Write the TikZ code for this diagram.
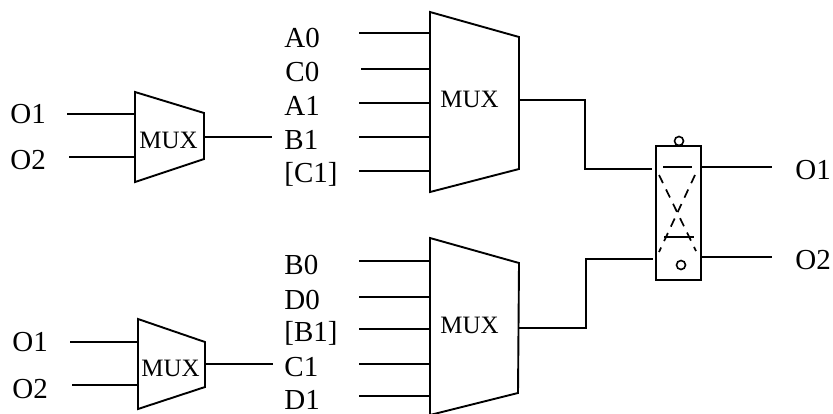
\documentclass[tikz,border=0pt]{standalone}
\usepackage{fontspec}
\setmainfont{Liberation Serif}
\tikzset{
	wire/.style={line width=0.85pt},
	muxbody/.style={line width=0.95pt, line join=miter},
	pin/.style={anchor=base west, inner sep=0pt, font=\fontsize{14.5}{16}\selectfont},
	muxname/.style={anchor=base west, inner sep=0pt, font=\fontsize{12.5}{15}\selectfont},
	ring/.style={draw, circle, line width=0.8pt, minimum size=4.5pt, inner sep=0pt},
	crossing/.style={wire, dash pattern=on 4.5pt off 3.5pt},
}
\begin{document}
\begin{tikzpicture}[x=0.5pt, y=-0.5pt]
	\useasboundingbox (0,0) rectangle (833,413);
	
	% 1. mux corners
	\coordinate (P1) at (135,92);
	\coordinate (P2) at (204,113);
	\coordinate (P3) at (204,159);
	\coordinate (P4) at (135,182);
	
	\coordinate (Q1) at (138,319);
	\coordinate (Q2) at (205,342);
	\coordinate (Q3) at (205,387);
	\coordinate (Q4) at (138,409);
	
	\coordinate (R1) at (430,12);
	\coordinate (R2) at (519,37);
	\coordinate (R3) at (519,169);
	\coordinate (R4) at (430,192);
	
	\coordinate (S1) at (430,238);
	\coordinate (S2) at (519,263);
	\coordinate (S3) at (518,393);
	\coordinate (S4) at (430,415);
	
	% 2. mux bodies
	\draw[muxbody] (P1) -- (P2) -- (P3) -- (P4) -- cycle;
	\draw[muxbody] (Q1) -- (Q2) -- (Q3) -- (Q4) -- cycle;
	\draw[muxbody] (R1) -- (R2) -- (R3) -- (R4) -- cycle;
	\draw[muxbody] (S1) -- (S2) -- (S3) -- (S4) -- cycle;
	
	\node[muxname] (P) at (139,148) {MUX};
	\node[muxname] (Q) at (141,376) {MUX};
	\node[muxname] (R) at (440,107) {MUX};
	\node[muxname] (S) at (440,333) {MUX};
	
	% 3. labels
	\node[pin] (PO1) at (10,123) {O1};
	\node[pin] (PO2) at (10,169) {O2};
	\node[pin] (QO1) at (12,351) {O1};
	\node[pin] (QO2) at (12,398) {O2};
	
	\node[pin] (A0) at (284,47) {A0};
	\node[pin] (C0) at (285,81) {C0};
	\node[pin] (A1) at (284,115) {A1};
	\node[pin] (B1) at (284,149) {B1};
	\node[pin] (C1) at (284,182) {[C1]};
	
	\node[pin] (B0) at (284,274) {B0};
	\node[pin] (D0) at (284,309) {D0};
	\node[pin] (B1s) at (284,341) {[B1]};
	\node[pin] (C1s) at (284,376) {C1};
	\node[pin] (D1) at (284,409) {D1};
	
	\node[pin] (XO1) at (795,179) {O1};
	\node[pin] (XO2) at (795,269) {O2};
	
	% 4. small mux wires
	\coordinate (p1) at (67,114);
	\coordinate (p2) at (69,157);
	\coordinate (p3) at (272,137);
	\coordinate (q1) at (70,342);
	\coordinate (q2) at (72,385);
	\coordinate (q3) at (273,364);
	\draw[wire] (p1) -- (p1 -| P1);
	\draw[wire] (p2) -- (p2 -| P1);
	\draw[wire] (p3 -| P2) -- (p3);
	\draw[wire] (q1) -- (q1 -| Q1);
	\draw[wire] (q2) -- (q2 -| Q1);
	\draw[wire] (q3 -| Q2) -- (q3);
	
	% 5. big mux inputs
	\coordinate (r1) at (359,33);
	\coordinate (r2) at (361,69);
	\coordinate (r3) at (359,103);
	\coordinate (r4) at (359,137);
	\coordinate (r5) at (359,171);
	\draw[wire] (r1) -- (r1 -| R1);
	\draw[wire] (r2) -- (r2 -| R1);
	\draw[wire] (r3) -- (r3 -| R1);
	\draw[wire] (r4) -- (r4 -| R1);
	\draw[wire] (r5) -- (r5 -| R1);
	
	\coordinate (s1) at (359,261);
	\coordinate (s2) at (359,297);
	\coordinate (s3) at (359,329);
	\coordinate (s4) at (359,364);
	\coordinate (s5) at (359,396);
	\draw[wire] (s1) -- (s1 -| S1);
	\draw[wire] (s2) -- (s2 -| S1);
	\draw[wire] (s3) -- (s3 -| S1);
	\draw[wire] (s4) -- (s4 -| S1);
	\draw[wire] (s5) -- (s5 -| S1);
	
	% 6. crossbar box
	\coordinate (X1) at (656,146);
	\coordinate (X2) at (701,280);
	\draw[muxbody] (X1) rectangle (X2);
	\node[ring] (topring) at (679,141) {};
	\node[ring] (lowring) at (681,265) {};
	
	\coordinate (u1) at (663,167);
	\coordinate (u2) at (692,167);
	\coordinate (v1) at (664,237);
	\coordinate (v2) at (694,237);
	\coordinate (w1) at (659,175);
	\coordinate (w2) at (696,251);
	\coordinate (w3) at (695,175);
	\coordinate (w4) at (659,252);
	\draw[wire] (u1) -- (u2);
	\draw[wire] (v1) -- (v2);
	\draw[crossing] (w1) -- (w2);
	\draw[crossing] (w3) -- (w4);
	
	% 7. wires round the box
	\coordinate (xa) at (652,169);
	\coordinate (xb) at (653,259);
	\coordinate (xc) at (772,167);
	\coordinate (xd) at (772,257);
	\draw[wire] (R2 |- 0,100) -- (585,100) -- (585,169) -- (xa);
	\draw[wire] (S2 |- 0,328) -- (586,328) -- (586,259) -- (xb);
	\draw[wire] (xc -| X2) -- (xc);
	\draw[wire] (xd -| X2) -- (xd);
	
\end{tikzpicture}
\end{document}
